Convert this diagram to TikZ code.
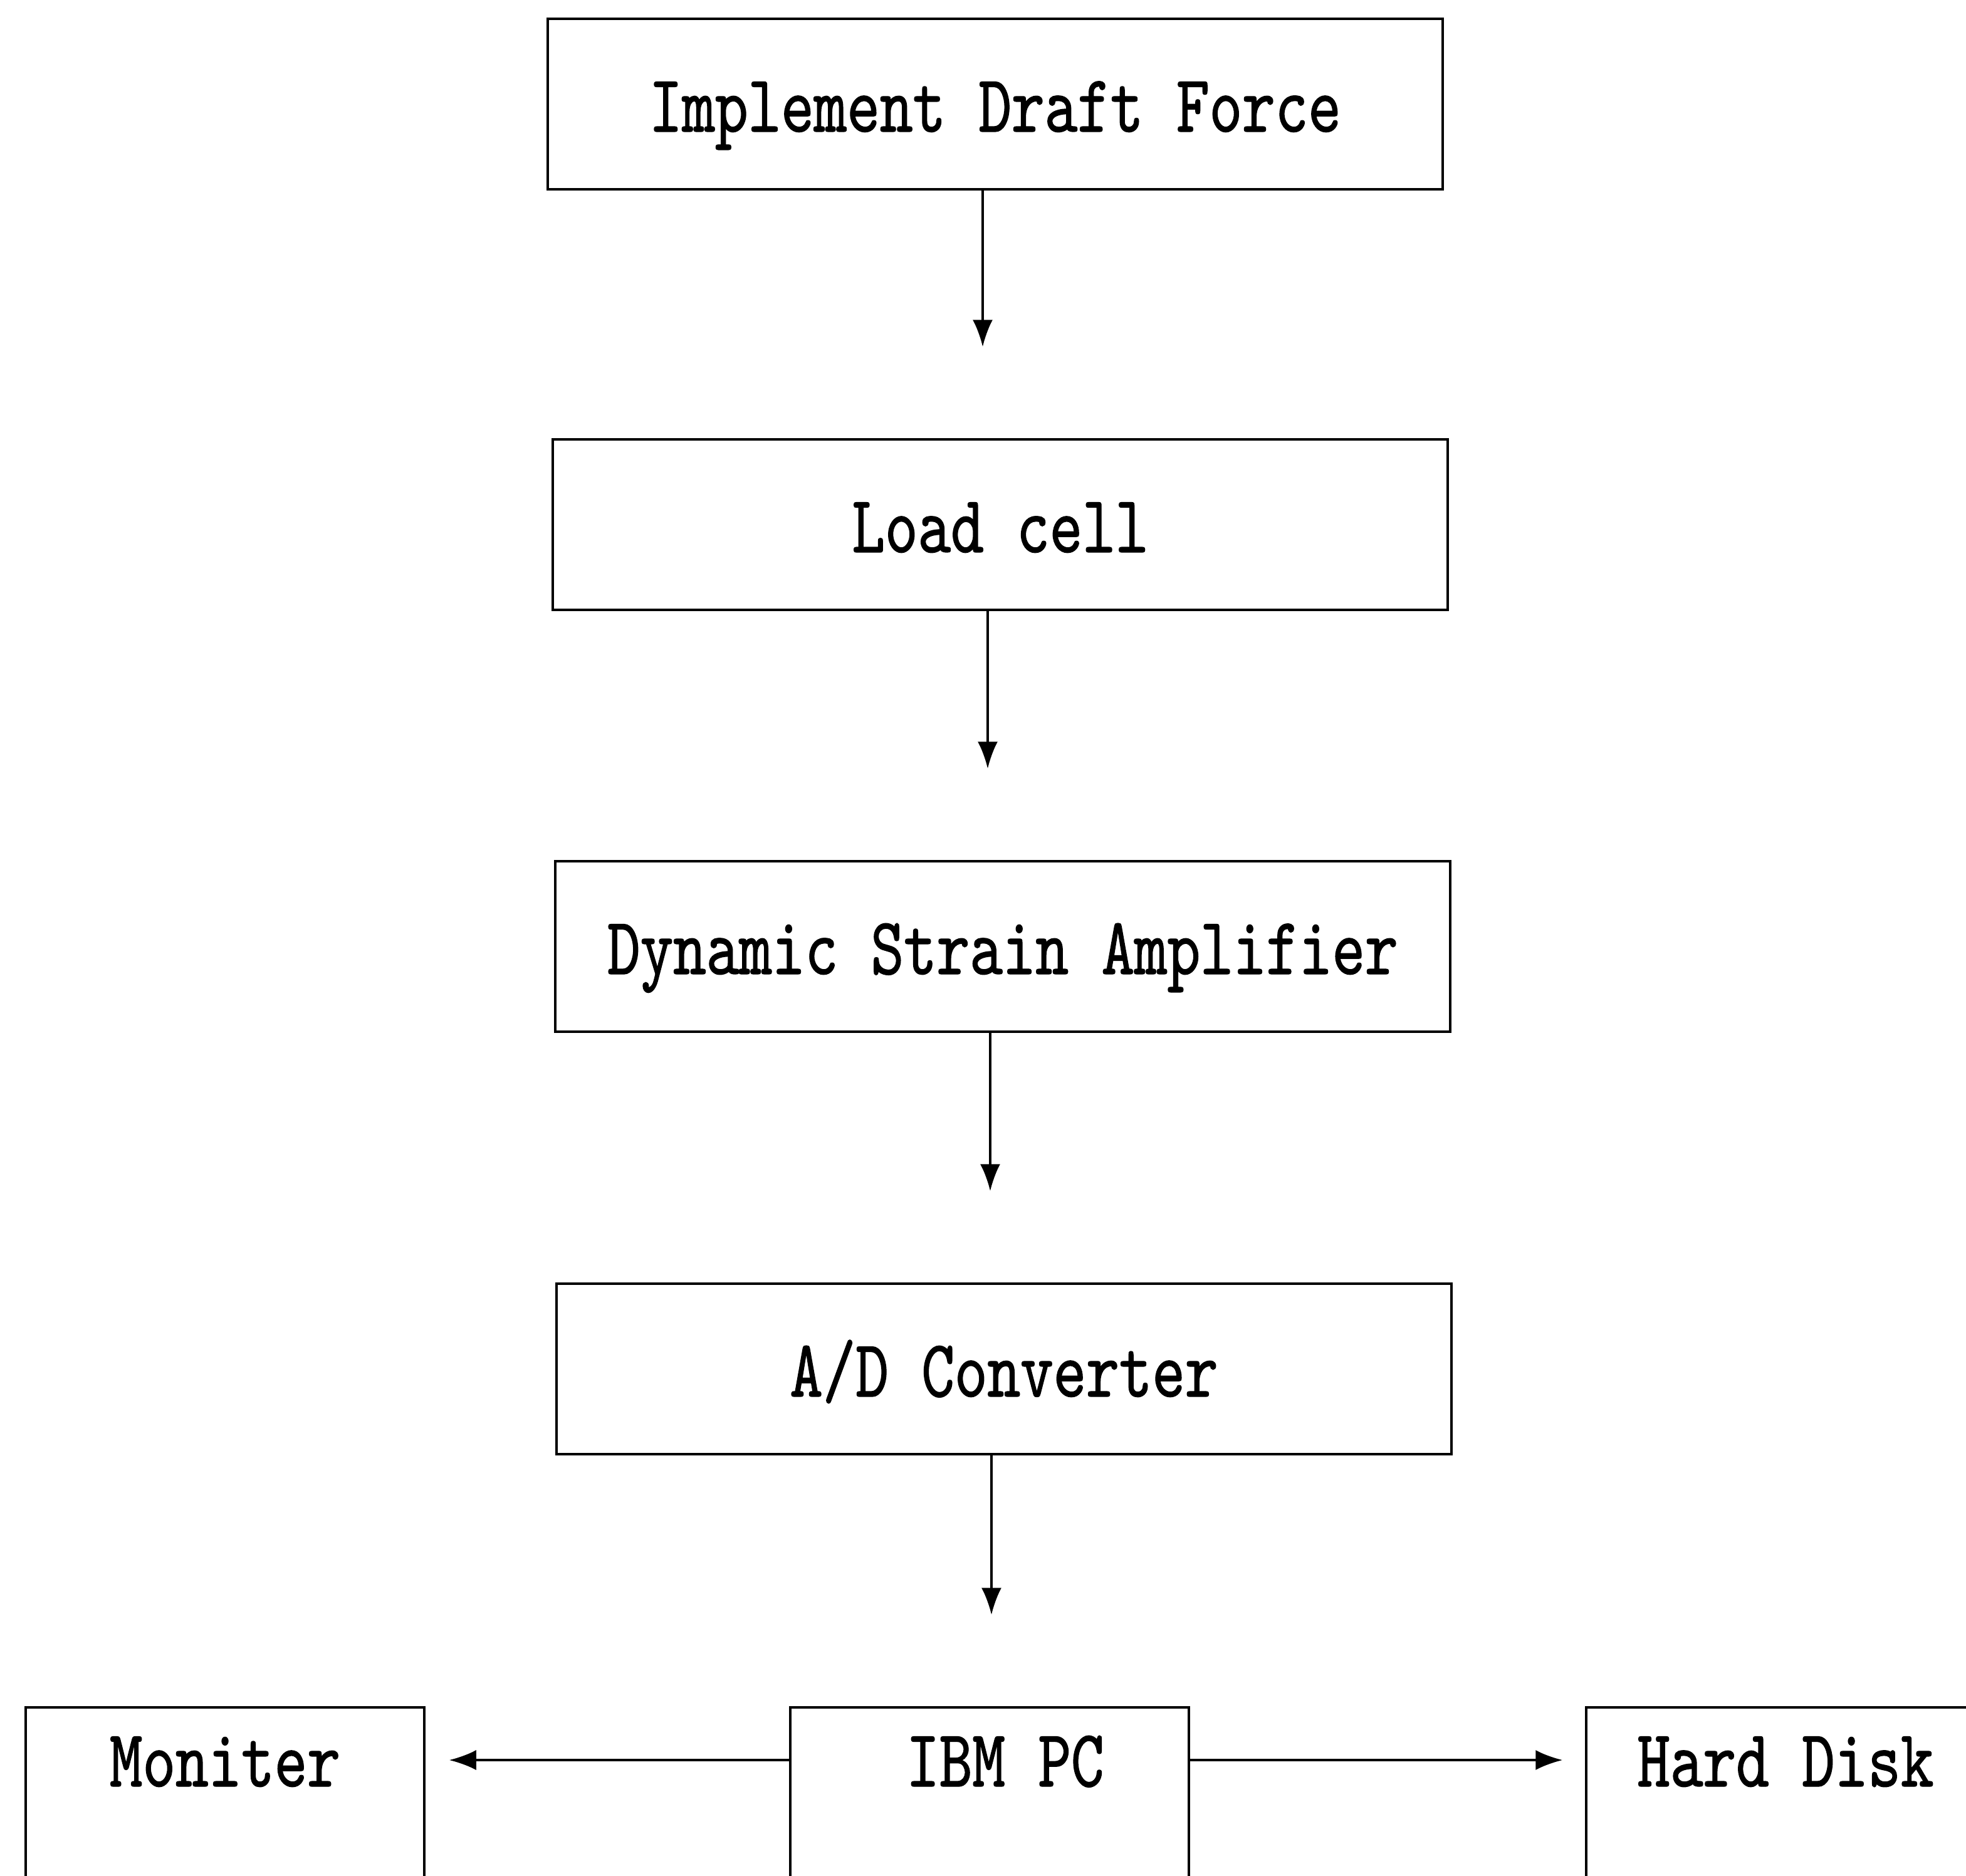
\documentclass[tikz,border=0pt]{standalone}
\usepackage{fontspec}
\usetikzlibrary{arrows.meta}
\newfontfamily\typefont{lmmono10-regular.otf}[FakeStretch=0.77,FakeBold=1]
\tikzset{
  stage box/.style={
    rectangle, draw=black, line width=1pt, inner sep=0pt,
    minimum width=14.28cm, minimum height=2.72cm,
    text height=1.0cm, text depth=0.12cm,
    font=\typefont\fontsize{37}{40}\selectfont
  },
  cut box/.style={
    rectangle, draw=black, line width=1pt, inner sep=0pt,
    minimum width=6.36cm, text height=1.26cm, text depth=1.8cm,
    font=\typefont\fontsize{37}{40}\selectfont
  },
  flow/.style={
    -{Latex[length=4.3mm,width=3.2mm]}, line width=1pt
  }
}

\begin{document}
\begin{tikzpicture}

\useasboundingbox (0,0) rectangle (31.37,-29.93);
\clip (0,0) rectangle (31.37,-29.93);

% ---------------------------
% measuring chain
% ---------------------------
\node[stage box] (idf)  at (15.88,-1.66)  {Implement Draft Force};
\node[stage box] (load) at (15.96,-8.37)  {Load cell};
\node[stage box] (dsa)  at (16.00,-15.10) {Dynamic Strain Amplifier};
\node[stage box] (adc)  at (16.02,-21.84) {A/D Converter};

\draw[flow, shorten >=1.46cm] ([xshift=-2mm]idf.south) -- ([xshift=-2mm]idf.south |- load.north);
\draw[flow, shorten >=1.46cm] ([xshift=-2mm]load.south) -- ([xshift=-2mm]load.south |- dsa.north);
\draw[flow, shorten >=1.46cm] ([xshift=-2mm]dsa.south) -- ([xshift=-2mm]dsa.south |- adc.north);

% ---------------------------
% computer and outputs
% ---------------------------
\node[cut box, anchor=base] (pc)   at (15.79,-28.50) {\hspace{5mm}IBM PC};
\node[cut box, anchor=base] (mon)  at (3.59,-28.50)  {Moniter};
\node[cut box, anchor=base] (disk) at (28.49,-28.50) {Hard Disk};

\draw[flow, shorten >=1.46cm] ([xshift=-2mm]adc.south) -- ([xshift=-2mm]adc.south |- pc.north);
\draw[flow, shorten >=0.38cm] ([yshift=4.2mm]pc.base west) -- ([yshift=4.2mm]pc.base west -| mon.east);
\draw[flow, shorten >=0.36cm] ([yshift=4.2mm]pc.base east) -- ([yshift=4.2mm]pc.base east -| disk.west);

\end{tikzpicture}
\end{document}
